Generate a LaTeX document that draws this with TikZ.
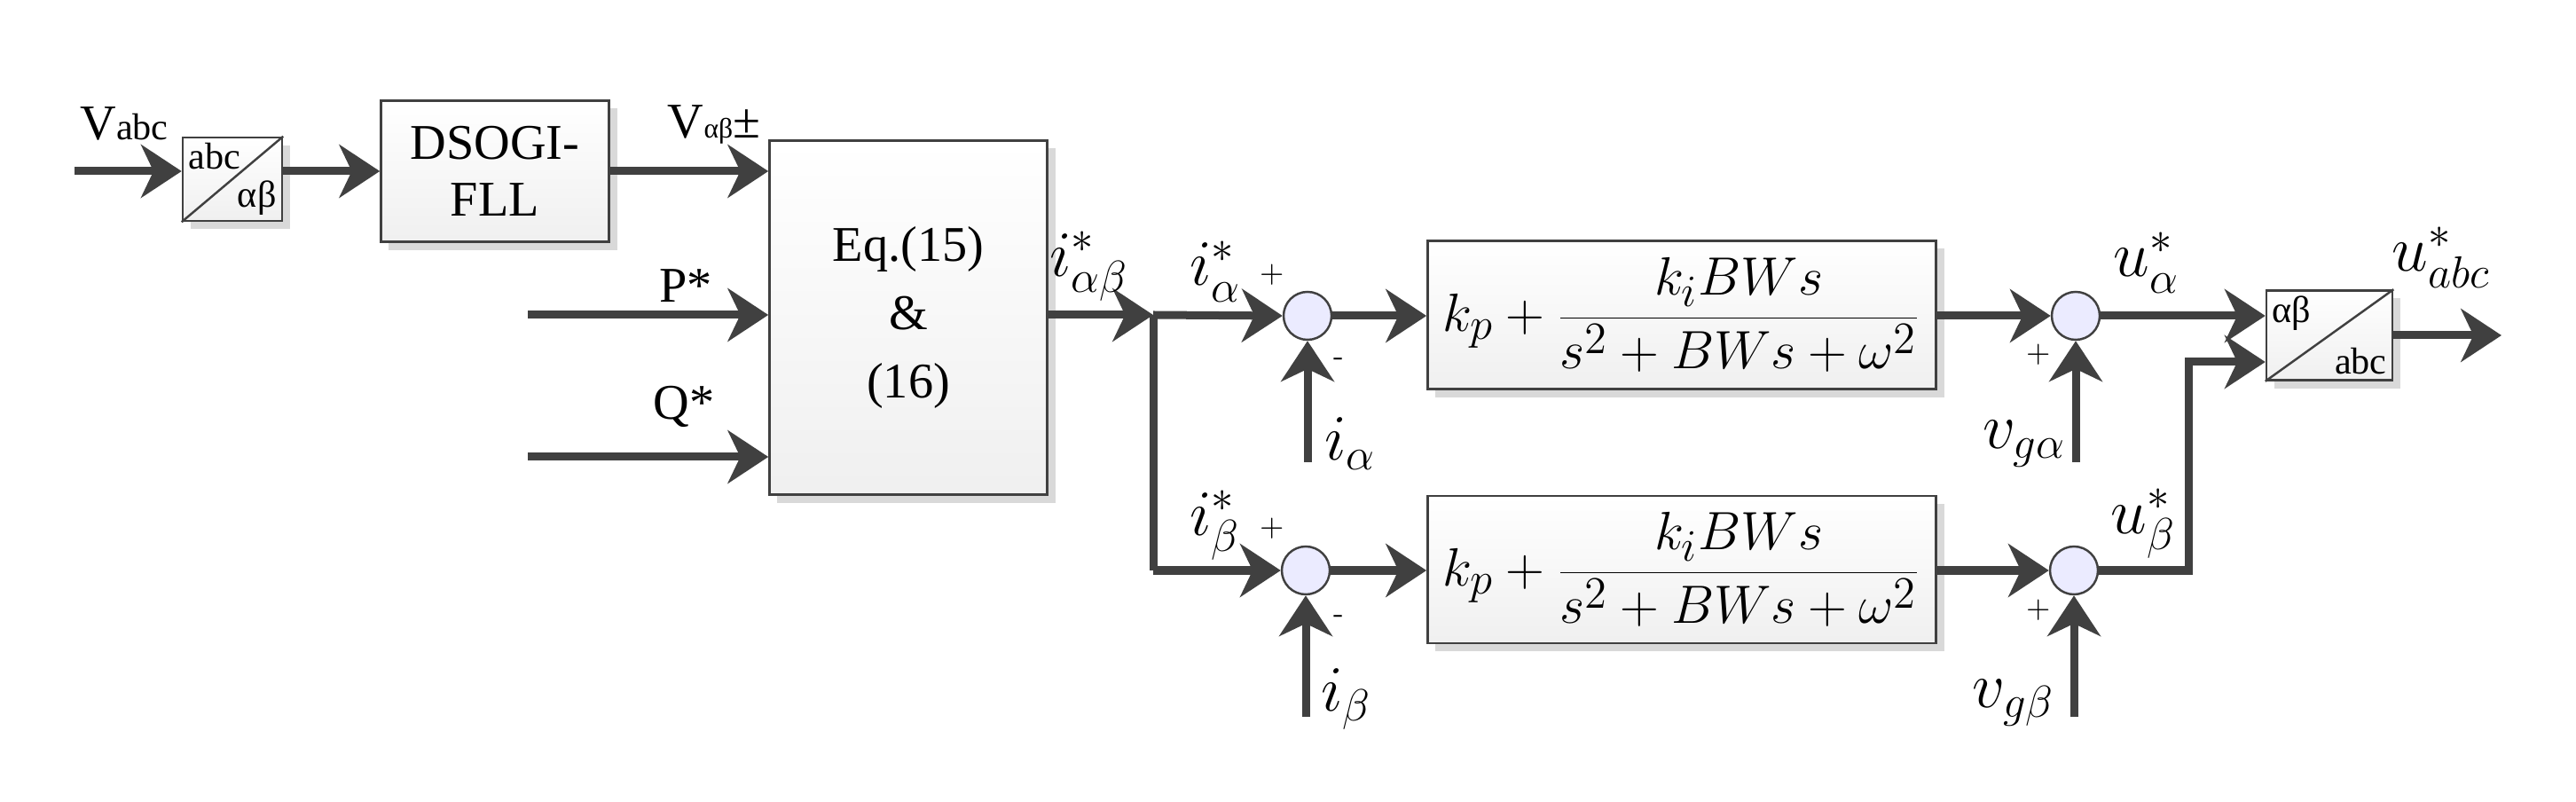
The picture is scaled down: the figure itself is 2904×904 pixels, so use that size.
\documentclass[tikz,border=0pt]{standalone}
\usepackage{fontspec}
\setmainfont{Liberation Serif}
\usetikzlibrary{arrows.meta,shadows}
\definecolor{ln}{HTML}{404040}
\begin{document}
\begin{tikzpicture}[x=0.01cm,y=-0.01cm,
  arr/.style={draw=ln,line width=0.09cm,-{Stealth[length=13pt,width=17pt,inset=4pt]}},
  wire/.style={draw=ln,line width=0.09cm},
  blk/.style={draw=ln,line width=0.7pt,top color=white,bottom color=gray!12,
    drop shadow={shadow xshift=0.09cm,shadow yshift=-0.09cm,fill=gray!30,opacity=1},
    inner sep=0pt,align=center},
  sum/.style={draw=ln,line width=0.7pt,fill=blue!8!white,circle,minimum size=0.54cm,inner sep=0pt},
  big/.style={font=\fontsize{16}{18}\selectfont},
  lab/.style={font=\fontsize{20}{24}\selectfont,inner sep=0pt},
  sg/.style={font=\sffamily\fontsize{10}{10}\selectfont,inner sep=0pt}]
\useasboundingbox (0,0) rectangle (2904,904);
% blocks
\node[blk,minimum width=0.112cm*10,minimum height=0.94cm] (c1) at (262,202) {};
\draw[ln,line width=0.7pt] (c1.south west) -- (c1.north east);
\node[font=\fontsize{12}{12}\selectfont,anchor=north west,inner sep=2pt] (c1a) at (c1.north west) {abc};
\node[font=\fontsize{12}{12}\selectfont,anchor=south east,inner sep=2pt] (c1b) at (c1.south east) {αβ};
\node[blk,big,minimum width=2.57cm,minimum height=1.59cm] (ds) at (558,193) {DSOGI-\\FLL};
\node[blk,big,minimum width=3.13cm,minimum height=3.99cm] (eq) at (1024,358) {Eq.(15)\\[4pt]\&\\[4pt](16)};
\node[blk,minimum width=5.73cm,minimum height=1.67cm,font=\fontsize{19}{22}\selectfont] (pi1) at (1896,355)
  {$\displaystyle k_p+\frac{k_iBWs}{s^2+BWs+\omega^2}$};
\node[blk,minimum width=5.73cm,minimum height=1.66cm,font=\fontsize{19}{22}\selectfont] (pi2) at (1896,642)
  {$\displaystyle k_p+\frac{k_iBWs}{s^2+BWs+\omega^2}$};
\node[blk,minimum width=1.42cm,minimum height=1.01cm] (c2) at (2626,378) {};
\draw[ln,line width=0.7pt] (c2.south west) -- (c2.north east);
\node[font=\fontsize{12}{12}\selectfont,anchor=north west,inner sep=2pt] (c2a) at (c2.north west) {αβ};
\node[font=\fontsize{12}{12}\selectfont,anchor=south east,inner sep=2pt] (c2b) at (c2.south east) {abc};
\node[sum] (s1) at (1474,356) {};
\node[sum] (s2) at (1472,643) {};
\node[sum] (s3) at (2340,356) {};
\node[sum] (s4) at (2338,643) {};
% coordinates
\coordinate (in) at (84,193);
\coordinate (pin) at (595,355);
\coordinate (qin) at (595,515);
\coordinate (br) at (1300,355);
\coordinate (brb) at (1300,643);
\coordinate (ia) at (1474,521);
\coordinate (ib) at (1472,808);
\coordinate (va) at (2340,521);
\coordinate (vb) at (2338,808);
\coordinate (up) at (2467,643);
\coordinate (upt) at (2467,408);
\coordinate (out) at (2820,378);
% connectors
\draw[arr] (in) -- (c1.west |- in);
\draw[arr] (c1.east |- in) -- (ds.west |- in);
\draw[arr] (ds.east |- in) -- (eq.west |- in);
\draw[arr] (pin) -- (eq.west |- pin);
\draw[arr] (qin) -- (eq.west |- qin);
\draw[arr] (eq.east |- br) -- (br);
\draw[wire] (br) -- (brb);
\draw[arr] (br) -- (s1.west);
\draw[arr] (brb) -- (s2.west);
\draw[arr] (s1.east) -- (pi1.west |- s1);
\draw[arr] (s2.east) -- (pi2.west |- s2);
\draw[arr] (ia) -- (s1.south);
\draw[arr] (ib) -- (s2.south);
\draw[arr] (pi1.east |- s3) -- (s3.west);
\draw[arr] (pi2.east |- s4) -- (s4.west);
\draw[arr] (va) -- (s3.south);
\draw[arr] (vb) -- (s4.south);
\draw[arr] (s3.east) -- (c2.west |- s3);
\draw[arr] (s4.east) -- (up) -- (upt) -- (c2.west |- upt);
\draw[arr] (c2.east |- out) -- (out);
% labels
\node[big] (lvabc) at (140,140) {V{\fontsize{12}{12}\selectfont abc}};
\node[big] (lvab) at (805,140) {V{\fontsize{9}{9}\selectfont αβ}±};
\node[big] (lp) at (773,322) {P*};
\node[big] (lq) at (771,458) {Q*};
\node[lab] (liab) at (1228,300) {$i^*_{\alpha\beta}$};
\node[lab] (lia) at (1370,306) {$i^*_{\alpha}$};
\node[lab] (lib) at (1370,592) {$i^*_{\beta}$};
\node[sg] at (1434,310) {+};
\node[sg] at (1509,408) {-};
\node[sg] at (1434,596) {+};
\node[sg] at (1509,698) {-};
\node[sg] at (2298,400) {+};
\node[sg] at (2298,688) {+};
\node[lab] (lia2) at (1522,500) {$i_{\alpha}$};
\node[lab] (lib2) at (1518,788) {$i_{\beta}$};
\node[lab] (lva) at (2282,500) {$v_{g\alpha}$};
\node[lab] (lvb) at (2270,792) {$v_{g\beta}$};
\node[lab] (lua) at (2420,296) {$u^*_{\alpha}$};
\node[lab] (lub) at (2416,590) {$u^*_{\beta}$};
\node[lab] (luabc) at (2752,290) {$u^*_{abc}$};
\end{tikzpicture}
\end{document}
